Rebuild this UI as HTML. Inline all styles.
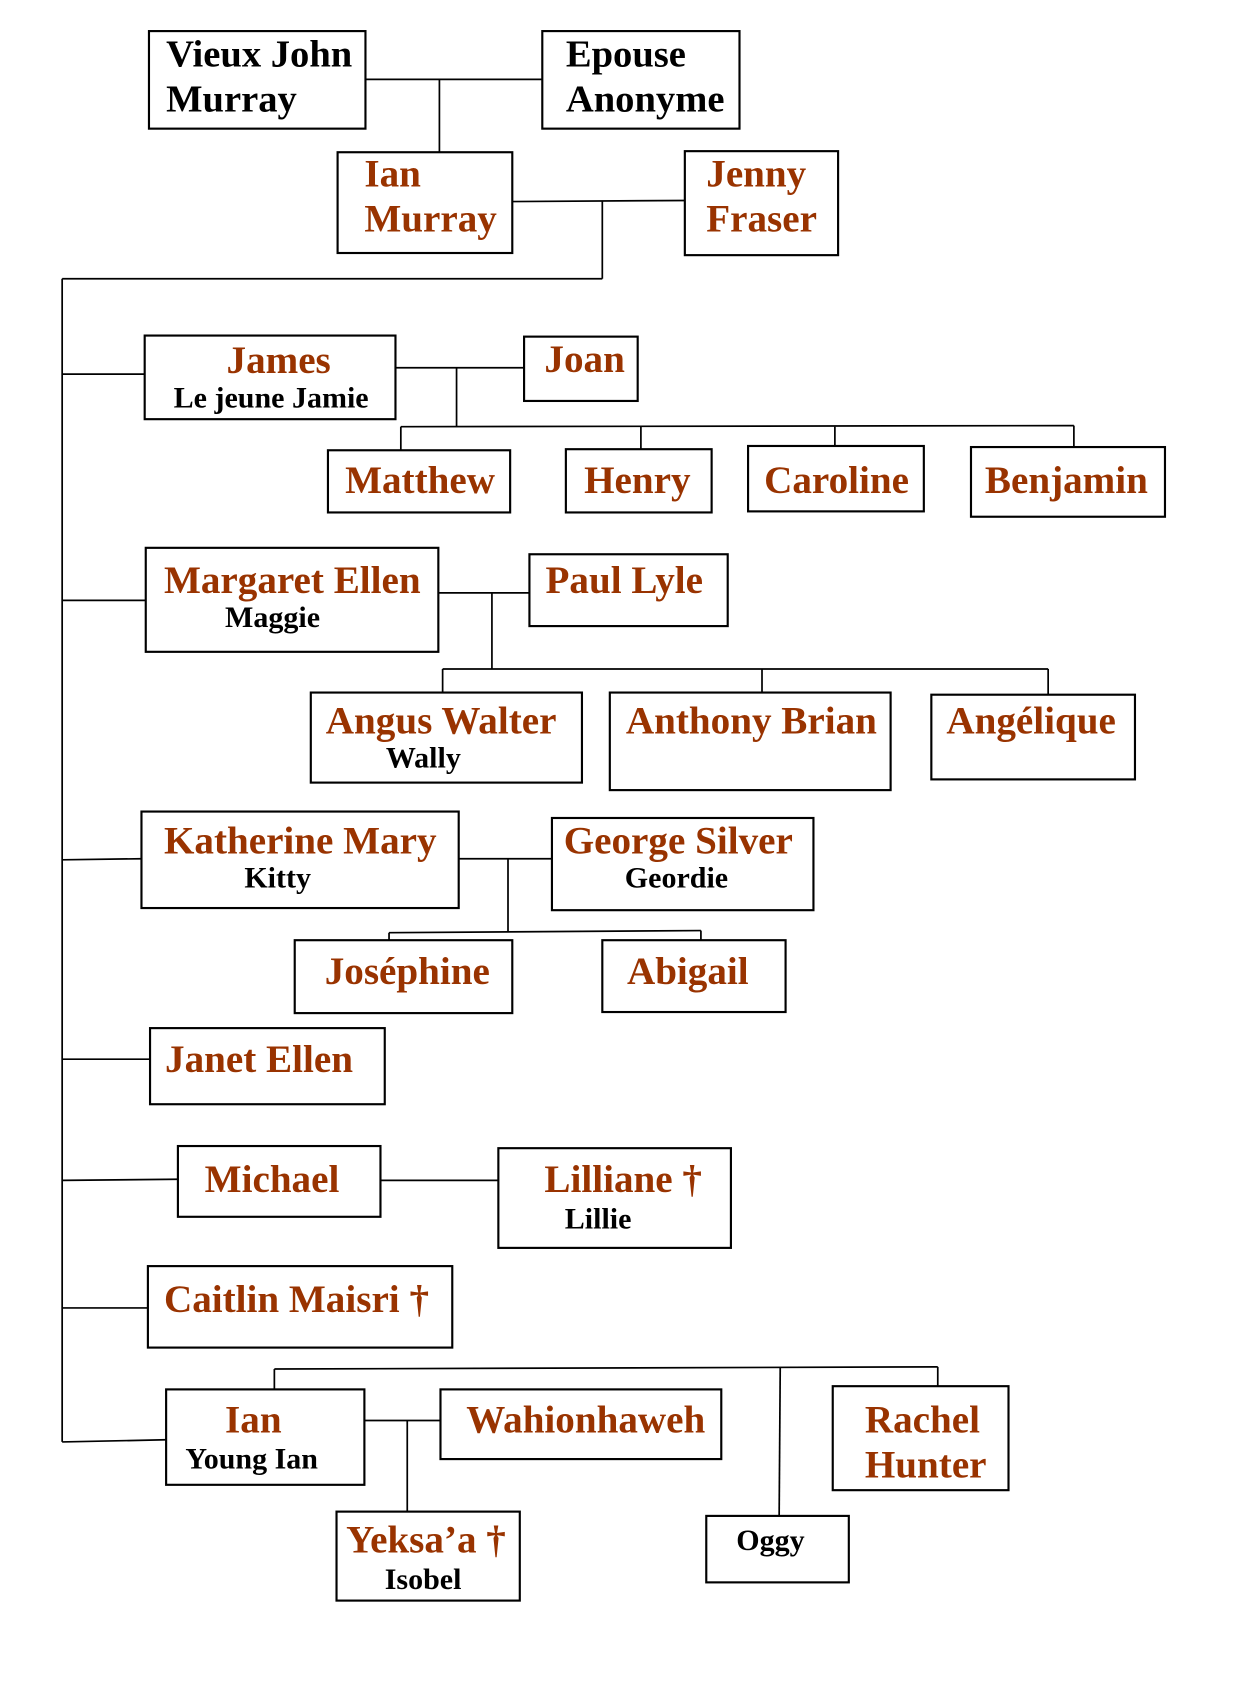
<!DOCTYPE html>
<html><head><meta charset="utf-8"><style>
html,body{margin:0;padding:0;background:#fff;width:1255px;height:1681px;overflow:hidden}
svg{display:block}
text{font-family:"Liberation Serif",serif;font-weight:bold}
.r{fill:#993300;font-size:36.5px}
.k{fill:#000;font-size:36px}
.s{fill:#000;font-size:28px}
rect{fill:none;stroke:#000;stroke-width:2}
line{stroke:#000;stroke-width:1.6}
</style></head><body>
<svg width="1255" height="1681" viewBox="0 0 1171 1568" preserveAspectRatio="none" xmlns="http://www.w3.org/2000/svg">
<rect x="139" y="29" width="202" height="91"/><text class="k" x="155" y="62">Vieux John</text><text class="k" x="155" y="104">Murray</text>
<rect x="506" y="29" width="184" height="91"/><text class="k" x="528" y="62">Epouse</text><text class="k" x="528" y="104">Anonyme</text>
<line x1="341" y1="74" x2="506" y2="74"/><line x1="410" y1="74" x2="410" y2="142"/>
<rect x="315" y="142" width="163" height="94"/><text class="r" x="340" y="174">Ian</text><text class="r" x="340" y="216">Murray</text>
<rect x="639" y="141" width="143" height="97"/><text class="r" x="659" y="174">Jenny</text><text class="r" x="659" y="216">Fraser</text>
<line x1="478" y1="188" x2="639" y2="187"/><line x1="562" y1="188" x2="562" y2="260"/>
<line x1="58" y1="260" x2="562" y2="260"/><line x1="58" y1="260" x2="58" y2="1345"/>
<line x1="58" y1="349" x2="135" y2="349"/>
<rect x="135" y="313" width="234" height="78"/><text class="r" x="260" y="348" text-anchor="middle">James</text><text class="s" x="253" y="380" text-anchor="middle">Le jeune Jamie</text>
<line x1="369" y1="343" x2="489" y2="343"/>
<rect x="489" y="314" width="106" height="60"/><text class="r" x="508" y="347">Joan</text>
<line x1="426" y1="343" x2="426" y2="398"/><line x1="374" y1="398" x2="1002" y2="397"/>
<line x1="374" y1="398" x2="374" y2="420"/><line x1="598" y1="398" x2="598" y2="419"/><line x1="779" y1="398" x2="779" y2="416"/><line x1="1002" y1="397" x2="1002" y2="417"/>
<rect x="306" y="420" width="170" height="58"/><text class="r" x="322" y="460">Matthew</text>
<rect x="528" y="419" width="136" height="59"/><text class="r" x="545" y="460">Henry</text>
<rect x="698" y="416" width="164" height="61"/><text class="r" x="713" y="460">Caroline</text>
<rect x="906" y="417" width="181" height="65"/><text class="r" x="919" y="460">Benjamin</text>
<line x1="58" y1="560" x2="136" y2="560"/>
<rect x="136" y="511" width="273" height="97"/><text class="r" x="153" y="553">Margaret Ellen</text><text class="s" x="210" y="585">Maggie</text>
<line x1="409" y1="553" x2="494" y2="553"/>
<rect x="494" y="517" width="185" height="67"/><text class="r" x="509" y="553">Paul Lyle</text>
<line x1="459" y1="553" x2="459" y2="624"/><line x1="413" y1="624" x2="978" y2="624"/>
<line x1="413" y1="624" x2="413" y2="646"/><line x1="711" y1="624" x2="711" y2="646"/><line x1="978" y1="624" x2="978" y2="648"/>
<rect x="290" y="646" width="253" height="84"/><text class="r" x="304" y="684">Angus Walter</text><text class="s" x="360" y="716">Wally</text>
<rect x="569" y="646" width="262" height="91"/><text class="r" x="584" y="684">Anthony Brian</text>
<rect x="869" y="648" width="190" height="79"/><text class="r" x="883" y="684">Angélique</text>
<line x1="58" y1="802" x2="132" y2="801"/>
<rect x="132" y="757" width="296" height="90"/><text class="r" x="153" y="796">Katherine Mary</text><text class="s" x="228" y="828">Kitty</text>
<line x1="428" y1="801" x2="515" y2="801"/>
<rect x="515" y="763" width="244" height="86"/><text class="r" x="526" y="796">George Silver</text><text class="s" x="583" y="828">Geordie</text>
<line x1="474" y1="801" x2="474" y2="869"/><line x1="363" y1="870" x2="654" y2="868"/>
<line x1="363" y1="870" x2="363" y2="877"/><line x1="654" y1="868" x2="654" y2="877"/>
<rect x="275" y="877" width="203" height="68"/><text class="r" x="303" y="918">Joséphine</text>
<rect x="562" y="877" width="171" height="67"/><text class="r" x="585" y="918">Abigail</text>
<line x1="58" y1="988" x2="140" y2="988"/>
<rect x="140" y="959" width="219" height="71"/><text class="r" x="154" y="1000">Janet Ellen</text>
<line x1="58" y1="1101" x2="166" y2="1100"/>
<rect x="166" y="1069" width="189" height="66"/><text class="r" x="191" y="1112">Michael</text>
<line x1="355" y1="1101" x2="465" y2="1101"/>
<rect x="465" y="1071" width="217" height="93"/><text class="r" x="508" y="1112">Lilliane †</text><text class="s" x="527" y="1146">Lillie</text>
<line x1="58" y1="1220" x2="138" y2="1220"/>
<rect x="138" y="1181" width="284" height="76"/><text class="r" x="153" y="1224">Caitlin Maisri †</text>
<line x1="256" y1="1277" x2="875" y2="1275"/>
<line x1="256" y1="1277" x2="256" y2="1296"/><line x1="875" y1="1275" x2="875" y2="1293"/><line x1="728" y1="1276" x2="727" y2="1414"/>
<line x1="58" y1="1345" x2="155" y2="1343"/>
<rect x="155" y="1296" width="185" height="89"/><text class="r" x="210" y="1336">Ian</text><text class="s" x="173" y="1370">Young Ian</text>
<line x1="340" y1="1325" x2="411" y2="1325"/>
<rect x="411" y="1296" width="262" height="65"/><text class="r" x="435" y="1336">Wahionhaweh</text>
<line x1="380" y1="1325" x2="380" y2="1410"/>
<rect x="314" y="1410" width="171" height="83"/><text class="r" x="323" y="1448">Yeksa’a †</text><text class="s" x="359" y="1482">Isobel</text>
<rect x="777" y="1293" width="164" height="97"/><text class="r" x="807" y="1336">Rachel</text><text class="r" x="807" y="1378">Hunter</text>
<rect x="659" y="1414" width="133" height="62"/><text class="s" x="687" y="1446">Oggy</text>
</svg>
</body></html>
